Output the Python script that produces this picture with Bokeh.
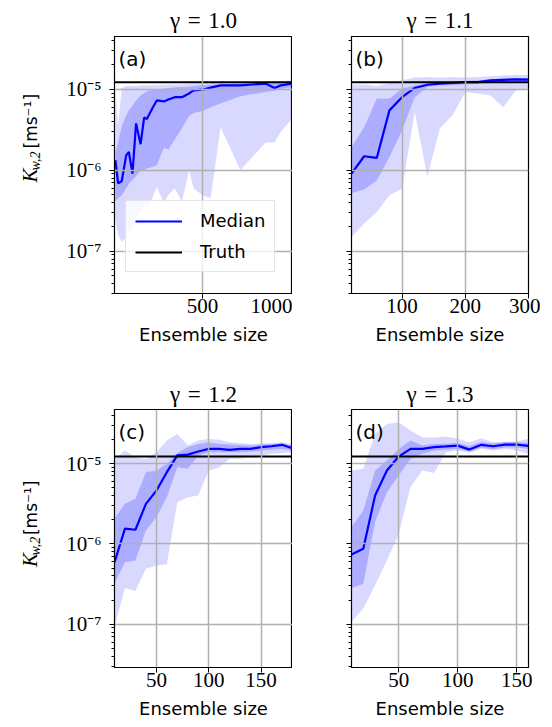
import math
from bokeh.plotting import figure
from bokeh.models import (Range1d, FixedTicker, LogTicker, CustomJSTickFormatter,
                          Label, Legend, LegendItem, Title)
from bokeh.layouts import column, row
from bokeh.embed import file_html
from bokeh.resources import INLINE
from bokeh.core.properties import value

TRUTH = 1.22e-5

# ---------------- panel (a): gamma = 1.0 ----------------
x_a = [15, 30, 50, 75, 90, 110, 130, 155, 175, 190, 220, 245, 285, 310, 345, 385,
       425, 450, 500, 545, 600, 710, 850, 900, 935, 1000]
med_a = [1.33e-6, 6.9e-7, 7.3e-7, 1.53e-6, 1.68e-6, 9.1e-7, 3.8e-6, 2.1e-6, 4.5e-6,
         4.3e-6, 5.8e-6, 7.3e-6, 7.1e-6, 7.5e-6, 8.0e-6, 8.0e-6, 8.9e-6, 9.7e-6,
         9.9e-6, 1.05e-5, 1.12e-5, 1.12e-5, 1.18e-5, 1.04e-5, 1.12e-5, 1.18e-5]
q75_a = [1.7e-6, 2.2e-6, 3.5e-6, 4.8e-6, 5.5e-6, 6.3e-6, 7.3e-6, 8.4e-6, 9.0e-6,
         9.5e-6, 9.8e-6, 1.0e-5, 1.02e-5, 1.04e-5, 1.06e-5, 1.07e-5, 1.08e-5, 1.1e-5,
         1.12e-5, 1.14e-5, 1.16e-5, 1.18e-5, 1.2e-5, 1.2e-5, 1.22e-5, 1.25e-5]
q25_a = [4.1e-7, 4.5e-7, 4.9e-7, 6.0e-7, 6.8e-7, 7.6e-7, 8.5e-7, 1.0e-6, 1.0e-6,
         1.05e-6, 1.1e-6, 1.15e-6, 1.9e-6, 1.8e-6, 2.4e-6, 3.3e-6, 4.7e-6, 5.1e-6,
         5.4e-6, 6.0e-6, 6.7e-6, 8.2e-6, 9.3e-6, 9.6e-6, 1.0e-5, 1.07e-5]
q05_a = [2.5e-7, 1.6e-7, 1.3e-7, 1.5e-7, 1.8e-7, 2.0e-7, 2.5e-7, 3.0e-7, 4.0e-7,
         3.5e-7, 4.5e-7, 6.2e-7, 3.9e-7, 5.0e-7, 6.0e-7, 4.1e-7, 1.0e-6, 6.0e-7,
         4.9e-7, 4.5e-7, 3.4e-6, 1.0e-6, 2.2e-6, 2.2e-6, 3.0e-6, 4.4e-6]
q95_a = [1.0e-5, 3.5e-6, 1.05e-5, 1.1e-5, 1.1e-5, 1.1e-5, 1.1e-5, 1.12e-5, 1.12e-5,
         1.12e-5, 1.13e-5, 1.13e-5, 1.14e-5, 1.15e-5, 1.15e-5, 1.16e-5, 1.17e-5,
         1.18e-5, 1.18e-5, 1.2e-5, 1.2e-5, 1.22e-5, 1.25e-5, 1.25e-5, 1.27e-5, 1.3e-5]

# ---------------- panel (b): gamma = 1.1 ----------------
x_b = [20, 40, 60, 80, 100, 120, 140, 160, 180, 200, 220, 240, 260, 280, 300]
med_b = [9.1e-7, 1.49e-6, 1.42e-6, 5.5e-6, 8.0e-6, 1.04e-5, 1.14e-5, 1.18e-5, 1.2e-5,
         1.23e-5, 1.23e-5, 1.29e-5, 1.31e-5, 1.33e-5, 1.32e-5]
q75_b = [1.94e-6, 3.4e-6, 7.7e-6, 7.7e-6, 1.02e-5, 1.12e-5, 1.19e-5, 1.22e-5, 1.25e-5,
         1.28e-5, 1.3e-5, 1.33e-5, 1.36e-5, 1.38e-5, 1.38e-5]
q25_b = [5.2e-7, 5.8e-7, 7.5e-7, 1.46e-6, 3.1e-6, 8.0e-6, 1.07e-5, 1.12e-5, 1.12e-5,
         1.15e-5, 1.17e-5, 1.2e-5, 1.23e-5, 1.25e-5, 1.25e-5]
q05_b = [1.5e-7, 2.2e-7, 3.05e-7, 4.9e-7, 5.9e-7, 5.2e-6, 8.3e-7, 3.3e-6, 4.8e-6,
         9.3e-6, 8.9e-6, 8.4e-6, 6.0e-6, 9.7e-6, 1.02e-5]
q95_b = [1.15e-5, 1.15e-5, 1.1e-5, 1.2e-5, 1.3e-5, 1.4e-5, 1.42e-5, 1.4e-5, 1.42e-5,
         1.4e-5, 1.42e-5, 1.45e-5, 1.48e-5, 1.5e-5, 1.5e-5]

# ---------------- panel (c): gamma = 1.2 ----------------
x_c = [10, 20, 30, 40, 50, 60, 70, 80, 90, 100, 110, 120, 130, 140, 150, 160, 170, 180]
med_c = [5.9e-7, 1.55e-6, 1.5e-6, 3.15e-6, 4.6e-6, 7.8e-6, 1.26e-5, 1.29e-5, 1.41e-5,
         1.52e-5, 1.52e-5, 1.48e-5, 1.52e-5, 1.52e-5, 1.6e-5, 1.64e-5, 1.71e-5, 1.55e-5]
q75_c = [2.06e-6, 3.15e-6, 3.65e-6, 7.8e-6, 8.2e-6, 9.9e-6, 1.35e-5, 1.6e-5, 1.75e-5,
         1.84e-5, 1.75e-5, 1.72e-5, 1.7e-5, 1.67e-5, 1.72e-5, 1.75e-5, 1.79e-5, 1.67e-5]
q25_c = [3.2e-7, 5.9e-7, 6.2e-7, 1.47e-6, 2.15e-6, 3.8e-6, 9.0e-6, 8.6e-6, 1.26e-5,
         1.38e-5, 1.38e-5, 1.38e-5, 1.38e-5, 1.4e-5, 1.45e-5, 1.48e-5, 1.52e-5, 1.45e-5]
q05_c = [9.3e-8, 2.8e-7, 2.6e-7, 4.9e-7, 5.4e-7, 5.6e-7, 3.3e-6, 3.8e-6, 4.0e-6,
         8.2e-6, 9.0e-6, 1.14e-5, 1.15e-5, 1.2e-5, 1.25e-5, 1.32e-5, 1.35e-5, 1.38e-5]
q95_c = [1.14e-5, 1.45e-5, 1.2e-5, 1.14e-5, 1.38e-5, 1.93e-5, 2.34e-5, 1.67e-5, 1.93e-5,
         2.03e-5, 1.98e-5, 1.84e-5, 1.8e-5, 1.75e-5, 1.77e-5, 1.79e-5, 1.84e-5, 1.75e-5]

# ---------------- panel (d): gamma = 1.3 ----------------
x_d = [10, 20, 30, 40, 50, 60, 70, 80, 90, 100, 110, 120, 130, 140, 150, 160]
med_d = [7.4e-7, 8.7e-7, 4.0e-6, 8.2e-6, 1.22e-5, 1.52e-5, 1.52e-5, 1.6e-5, 1.63e-5,
         1.67e-5, 1.49e-5, 1.71e-5, 1.64e-5, 1.72e-5, 1.72e-5, 1.66e-5]
q75_d = [1.62e-6, 2.6e-6, 8.2e-6, 1.09e-5, 1.52e-5, 1.93e-5, 1.67e-5, 1.75e-5, 1.78e-5,
         1.8e-5, 1.65e-5, 1.85e-5, 1.78e-5, 1.85e-5, 1.85e-5, 1.8e-5]
q25_d = [2.8e-7, 3.2e-7, 1.87e-6, 4.4e-6, 7.1e-6, 1.14e-5, 1.32e-5, 1.45e-5, 1.48e-5,
         1.52e-5, 1.42e-5, 1.57e-5, 1.5e-5, 1.58e-5, 1.58e-5, 1.52e-5]
q05_d = [1.07e-7, 1.57e-7, 3.05e-7, 6.2e-7, 1.33e-6, 5.1e-6, 8.2e-6, 7.6e-6, 1.38e-5,
         1.45e-5, 1.36e-5, 1.52e-5, 1.45e-5, 1.52e-5, 1.45e-5, 1.32e-5]
q95_d = [8.2e-6, 8.6e-6, 2.34e-5, 3.1e-5, 3.26e-5, 2.57e-5, 2.12e-5, 2.1e-5, 2.17e-5,
         2.03e-5, 1.84e-5, 2.06e-5, 1.84e-5, 1.86e-5, 1.88e-5, 2.03e-5]

# axis limits / ticks / titles
xlim_a, xlim_b, xlim_c, xlim_d = [10, 1000], [20, 300], [10, 180], [10, 160]
ylim_top, ylim_bot = [3.0e-8, 4.5e-5], [2.9e-8, 4.7e-5]
xticks_a, xticks_b, xticks_c, xticks_d = [500, 1000], [100, 200, 300], [50, 100, 150], [50, 100, 150]
titles = ["\u03b3\u2004=\u20041.0", "\u03b3\u2004=\u20041.1", "\u03b3\u2004=\u20041.2", "\u03b3\u2004=\u20041.3"]
letters = ["(a)", "(b)", "(c)", "(d)"]
xlabel = "Ensemble size"
ylabel_parts = ["K", "w,2", "[ms\u207b\u00b9]"]

SUP_JS = """
const e = Math.round(Math.log10(tick));
const m = {"-":"\\u207b","0":"\\u2070","1":"\\u00b9","2":"\\u00b2","3":"\\u00b3","4":"\\u2074",
           "5":"\\u2075","6":"\\u2076","7":"\\u2077","8":"\\u2078","9":"\\u2079"};
return "10" + String(e).split("").map(c => m[c]).join("");
"""

SERIF = "Liberation Serif"
SANS = "DejaVu Sans"
BLUE = "#0000ff"
GRID = "#b0b0b0"

# vertical layout (px)
T1, F1, B1 = 36, 257, 62
T2, F2, B2 = 54, 258, 58
YLAB_W = 44


def panel(x, med, q25, q75, q05, q95, xlim, ylim, xticks, title, letter,
          left_col, top_row, legend=False):
    fw = 178 if left_col else 177
    fh = F1 if top_row else F2
    mbl = (114 - YLAB_W) if left_col else 59
    mbr = 0 if left_col else 12
    mbt = T1 if top_row else T2
    mbb = B1 if top_row else B2
    p = figure(width=mbl + fw + mbr, height=mbt + fh + mbb,
               x_range=Range1d(*xlim), y_range=Range1d(*ylim),
               y_axis_type="log", output_backend="svg", toolbar_location=None,
               title=None, min_border_left=mbl, min_border_right=mbr,
               min_border_top=mbt, min_border_bottom=mbb)
    p.background_fill_color = "white"
    p.border_fill_color = "white"
    p.outline_line_color = "black"
    p.outline_line_width = 1.2

    p.varea(x=x, y1=q05, y2=q95, fill_color=BLUE, fill_alpha=0.15, level="underlay")
    p.varea(x=x, y1=q25, y2=q75, fill_color=BLUE, fill_alpha=0.2, level="underlay")
    mr = p.line(x=x, y=med, line_color=BLUE, line_width=2.2)
    tr = p.line(x=xlim, y=[TRUTH, TRUTH], line_color="black", line_width=2)

    xt = FixedTicker(ticks=xticks, minor_ticks=[])
    yt = LogTicker(num_minor_ticks=10)
    xa = p.xaxis[0]
    xa.ticker = xt
    xa.major_tick_out = 5
    xa.major_tick_in = 0
    xa.minor_tick_line_color = None
    xa.axis_line_color = "black"
    xa.major_tick_line_color = "black"
    xa.major_label_text_font = SERIF
    xa.major_label_text_font_size = "21px"
    xa.major_label_text_color = "black"
    xa.major_label_standoff = 0
    xa.axis_label = xlabel
    xa.axis_label_text_font = SANS
    xa.axis_label_text_font_size = "18px"
    xa.axis_label_text_font_style = "normal"
    xa.axis_label_text_color = "black"
    xa.axis_label_standoff = 8

    ya = p.yaxis[0]
    ya.ticker = yt
    ya.major_tick_out = 5
    ya.major_tick_in = 0
    ya.minor_tick_out = 3
    ya.minor_tick_in = 0
    ya.axis_line_color = "black"
    ya.major_tick_line_color = "black"
    ya.minor_tick_line_color = "black"
    ya.major_label_text_font = SERIF
    ya.major_label_text_font_size = "21px"
    ya.major_label_text_color = "black"
    ya.major_label_standoff = 8
    ya.formatter = CustomJSTickFormatter(code=SUP_JS if left_col else "return '';")

    p.xgrid.ticker = xt
    p.ygrid.ticker = yt
    for g in (p.xgrid[0], p.ygrid[0]):
        g.grid_line_color = GRID
        g.grid_line_width = 1.5
        g.level = "glyph"

    p.add_layout(Title(text=title, align="center", text_font=SERIF,
                       text_font_size="23px", text_font_style="normal",
                       text_color="black", standoff=(7 if top_row else 5),
                       offset=0), "above")
    p.add_layout(Label(x=4, y=fh - 22, x_units="screen", y_units="screen",
                       text=letter, text_align="left", text_baseline="middle",
                       text_font=SANS, text_font_size="20px", text_color="black"))

    if legend:
        lg = Legend(items=[LegendItem(label="Median", renderers=[mr]),
                           LegendItem(label="Truth", renderers=[tr])],
                    location=(11, 21))
        lg.label_text_font = SANS
        lg.label_text_font_size = "18px"
        lg.label_text_color = "black"
        lg.glyph_width = 47
        lg.glyph_height = 20
        lg.label_height = 20
        lg.label_standoff = 18
        lg.spacing = 10
        lg.padding = 9
        lg.margin = 0
        lg.border_line_color = "#cccccc"
        lg.border_line_width = 1
        lg.background_fill_color = "white"
        lg.background_fill_alpha = 0.8
        p.add_layout(lg, "center")
    return p


def ylabel_fig(height, page_top, centers):
    """Narrow text-only figure carrying the rotated y-axis label.
    Its data space is simply its pixel grid (x right, y up)."""
    f = figure(width=YLAB_W, height=height, x_range=Range1d(0, YLAB_W),
               y_range=Range1d(0, height), output_backend="svg",
               toolbar_location=None, title=None,
               x_axis_location=None, y_axis_location=None, min_border=0)
    f.outline_line_color = None
    f.grid.visible = False
    f.background_fill_color = "white"
    f.border_fill_color = "white"
    rot = math.pi / 2
    styles = [(SERIF, "italic", "21px"), (SERIF, "italic", "14px"), (SANS, "normal", "17px")]
    for txt, (cx, cy), (fnt, sty, size) in zip(ylabel_parts, centers, styles):
        f.text(x=[cx], y=[height - (cy - page_top)], text=[txt], angle=rot,
               text_align="center", text_baseline="middle",
               text_font=value(fnt), text_font_style=sty,
               text_font_size=size, text_color="black")
    return f


pa = panel(x_a, med_a, q25_a, q75_a, q05_a, q95_a, xlim_a, ylim_top, xticks_a,
           titles[0], letters[0], True, True, legend=True)
pb = panel(x_b, med_b, q25_b, q75_b, q05_b, q95_b, xlim_b, ylim_top, xticks_b,
           titles[1], letters[1], False, True)
pc = panel(x_c, med_c, q25_c, q75_c, q05_c, q95_c, xlim_c, ylim_bot, xticks_c,
           titles[2], letters[2], True, False)
pd_ = panel(x_d, med_d, q25_d, q75_d, q05_d, q95_d, xlim_d, ylim_bot, xticks_d,
            titles[3], letters[3], False, False)

h_top = T1 + F1 + B1
h_bot = T2 + F2 + B2
# centres (page px) of the pieces "K", "w,2", "[ms^-1]"
yl_top = ylabel_fig(h_top, 0, [(29, 192), (35, 172), (30, 117)])
yl_bot = ylabel_fig(h_bot, h_top, [(29, 571), (35, 551), (30, 496)])

layout = column(row(yl_top, pa, pb), row(yl_bot, pc, pd_))
open("out.html", "w").write(file_html(layout, INLINE))
